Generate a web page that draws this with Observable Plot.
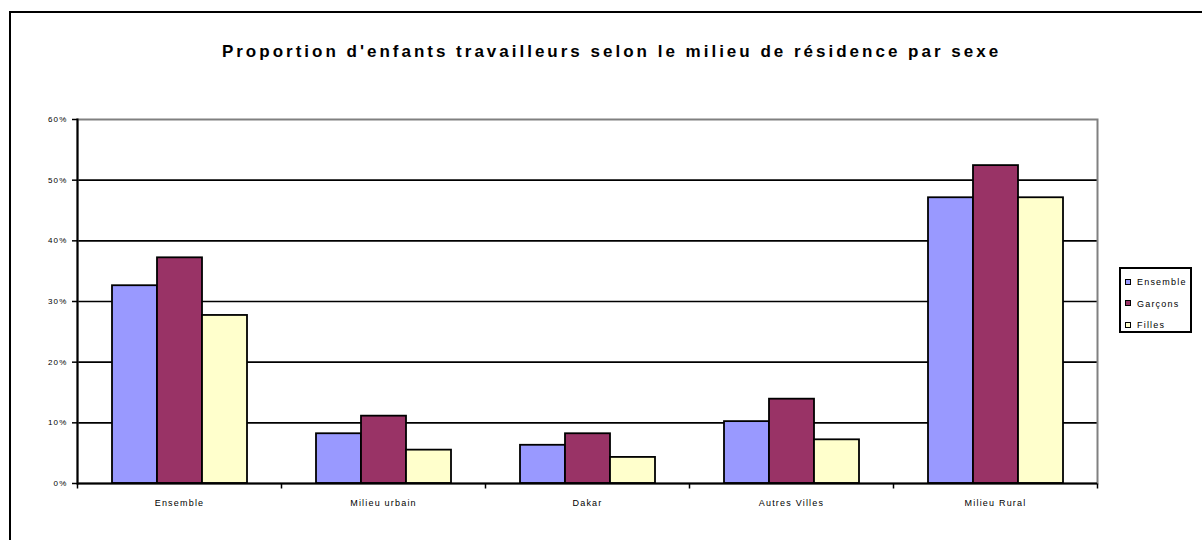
<!DOCTYPE html>
<html>
<head>
<meta charset="utf-8">
<script src="https://cdn.jsdelivr.net/npm/d3@7"></script>
<script src="https://cdn.jsdelivr.net/npm/@observablehq/plot@0.6"></script>
<style>
  html, body { margin: 0; padding: 0; background: #fff; }
  #wrap { position: relative; width: 1202px; height: 540px; overflow: hidden; background: #fff; font-family: "Liberation Sans", Arial, sans-serif; }
  #wrap svg { position: absolute; left: 0; top: 0; }
  #wrap svg text { letter-spacing: 1.2px; }
  #border { position: absolute; left: 9px; top: 11px; width: 1210px; height: 600px; border: 2px solid #000; box-sizing: border-box; }
  #title { position: absolute; left: 0; width: 1223px; top: 42px; text-align: center; font-weight: bold; font-size: 17px; letter-spacing: 3px; color: #000; white-space: nowrap; }
  #legend { position: absolute; left: 1119px; top: 267px; width: 73px; height: 66px; border: 2px solid #000; box-sizing: border-box; background: #fff; }
  .item { position: absolute; left: 4px; height: 12px; font-size: 9px; letter-spacing: 1.2px; line-height: 12px; white-space: nowrap; }
  .sw { display: inline-block; width: 4px; height: 4px; border: 1.6px solid #000; vertical-align: middle; margin-right: 6px; position: relative; top: -1px; }
</style>
</head>
<body>
<div id="wrap">
  <div id="border"></div>
  <div id="title"></div>
  <div id="legend"></div>
</div>
<script>
const titleText = "Proportion d'enfants travailleurs selon le milieu de résidence par sexe";
const categories = ["Ensemble", "Milieu urbain", "Dakar", "Autres Villes", "Milieu Rural"];
const series = ["Ensemble", "Garçons", "Filles"];
const seriesColors = ["#9999FF", "#993366", "#FFFFCC"];
const ensembleValues = [0.326, 0.082, 0.063, 0.102, 0.471];
const garconsValues = [0.372, 0.111, 0.082, 0.139, 0.524];
const fillesValues = [0.277, 0.055, 0.043, 0.072, 0.471];
const yTicks = [0, 0.1, 0.2, 0.3, 0.4, 0.5, 0.6];
const gridTicks = [0.1, 0.2, 0.3, 0.4, 0.5];

const valueSets = [ensembleValues, garconsValues, fillesValues];
const data = [];
categories.forEach((c, i) => {
  series.forEach((s, j) => data.push({category: c, series: s, value: valueSets[j][i]}));
});

const tickSymbol = { draw(ctx) { ctx.moveTo(0, 0); ctx.lineTo(0, 5); } };

const chart = Plot.plot({
  width: 1202,
  height: 540,
  marginLeft: 76,
  marginRight: 104,
  marginTop: 119,
  marginBottom: 57,
  style: { fontFamily: "'Liberation Sans', Arial, sans-serif", background: "transparent", color: "#000" },
  fx: { domain: categories, padding: 0, label: null },
  x: { domain: series, paddingInner: 0, paddingOuter: 0.75, axis: null },
  y: { domain: [0, 0.6], label: null, axis: null },
  color: { domain: series, range: seriesColors },
  marks: [
    Plot.ruleY(gridTicks, { y: d => d, stroke: "#000", strokeWidth: 1.6 }),
    Plot.frame({ facet: "super", stroke: "#808080", strokeWidth: 2 }),
    Plot.barY(data, { fx: "category", x: "series", y: "value", fill: "series", stroke: "#000", strokeWidth: 1.8 }),
    Plot.ruleY([0], { stroke: "#000", strokeWidth: 2 }),
    Plot.frame({ facet: "super", anchor: "left", stroke: "#000", strokeWidth: 2 }),
    Plot.dot(categories, { fx: d => d, frameAnchor: "bottom-left", symbol: tickSymbol, fill: "none", stroke: "#000", strokeWidth: 1.5 }),
    Plot.dot(categories.slice(-1), { fx: d => d, frameAnchor: "bottom-right", symbol: tickSymbol, fill: "none", stroke: "#000", strokeWidth: 1.5 }),
    Plot.axisY({ ticks: yTicks, tickFormat: d3.format(".0%"), tickSize: 5, tickPadding: 5, fontSize: 8, strokeWidth: 1.5, label: null }),
    Plot.axisFx({ anchor: "bottom", tickSize: 0, tickPadding: 16, fontSize: 9, label: null })
  ]
});

const wrap = document.getElementById("wrap");
wrap.insertBefore(chart, wrap.firstChild);
document.getElementById("title").textContent = titleText;

const legend = document.getElementById("legend");
series.forEach((s, i) => {
  const item = document.createElement("div");
  item.className = "item";
  item.style.top = (7 + i * 21.5) + "px";
  const sw = document.createElement("span");
  sw.className = "sw";
  sw.style.background = seriesColors[i];
  item.appendChild(sw);
  item.appendChild(document.createTextNode(s));
  legend.appendChild(item);
});
</script>
</body>
</html>
